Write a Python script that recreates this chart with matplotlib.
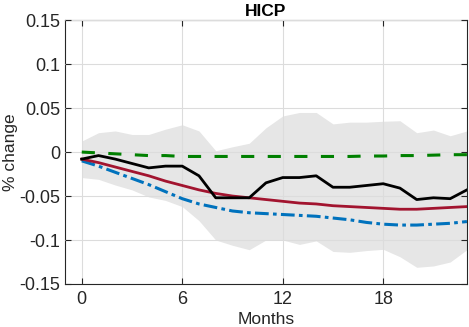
import matplotlib
matplotlib.use("Agg")
import matplotlib.pyplot as plt
import numpy as np

plt.rcParams['font.family'] = ['Liberation Sans', 'DejaVu Sans']

months = np.arange(24)

# median / point response (black)
hicp_black = [-0.008, -0.004, -0.008, -0.013, -0.018, -0.016, -0.016, -0.027,
              -0.052, -0.052, -0.052, -0.035, -0.029, -0.029, -0.027, -0.040,
              -0.040, -0.038, -0.036, -0.041, -0.054, -0.052, -0.053, -0.043]
hicp_red = [-0.008, -0.012, -0.017, -0.022, -0.027, -0.033, -0.038, -0.043,
            -0.047, -0.050, -0.052, -0.054, -0.056, -0.058, -0.059, -0.061,
            -0.062, -0.063, -0.064, -0.065, -0.065, -0.064, -0.063, -0.062]
hicp_blue = [-0.010, -0.016, -0.023, -0.030, -0.037, -0.045, -0.053, -0.059,
             -0.063, -0.067, -0.069, -0.070, -0.071, -0.072, -0.073, -0.075,
             -0.077, -0.080, -0.082, -0.083, -0.083, -0.082, -0.081, -0.079]
hicp_green = [0.000, -0.001, -0.002, -0.003, -0.004, -0.004, -0.005, -0.005,
              -0.005, -0.005, -0.005, -0.005, -0.005, -0.005, -0.005, -0.005,
              -0.005, -0.0045, -0.0045, -0.004, -0.004, -0.0035, -0.003, -0.003]
band_upper = [0.0125, 0.022, 0.024, 0.020, 0.020, 0.026, 0.031, 0.024,
              0.0015, 0.006, 0.010, 0.0276, 0.041, 0.045, 0.045, 0.032,
              0.034, 0.034, 0.035, 0.0356, 0.022, 0.025, 0.0185, 0.024]
band_lower = [-0.029, -0.031, -0.0375, -0.043, -0.051, -0.055, -0.062, -0.078,
              -0.100, -0.106, -0.111, -0.100, -0.100, -0.105, -0.101, -0.113,
              -0.114, -0.112, -0.1106, -0.119, -0.131, -0.1295, -0.125, -0.111]

fig = plt.figure(figsize=(4.69, 3.27), dpi=100)
ax = fig.add_axes([0.1386, 0.1315, 0.857, 0.807])

ax.fill_between(months, band_lower, band_upper, color='#e6e6e6', lw=0, zorder=1)
ax.plot(months, hicp_green, color='#008000', lw=2.2, ls=(0, (4.3, 4.4)), zorder=3)
ax.plot(months, hicp_blue, color='#0072bd', lw=2.2, ls=(0, (4.5, 1.4, 1.2, 1.4)), zorder=3)
ax.plot(months, hicp_red, color='#a2142f', lw=2.0, zorder=3)
ax.plot(months, hicp_black, color='black', lw=2.0, zorder=4)

ax.set_xlim(-1, 23)
ax.set_ylim(-0.15, 0.15)
ax.set_xticks([0, 6, 12, 18])
ax.set_yticks([-0.15, -0.1, -0.05, 0, 0.05, 0.1, 0.15])
ax.set_yticklabels(['-0.15', '-0.1', '-0.05', '0', '0.05', '0.1', '0.15'])
ax.grid(True, color='#dcdcdc', lw=0.8, zorder=2)
ax.set_axisbelow(False)
for gl in ax.get_xgridlines() + ax.get_ygridlines():
    gl.set_zorder(2)
ax.tick_params(direction='in', top=True, right=True, length=4, width=0.8,
               labelsize=13, colors='#262626', labelcolor='#262626')
ax.tick_params(axis='x', pad=5)
for s in ax.spines.values():
    s.set_color('#262626')
    s.set_linewidth(0.8)

ax.set_title('HICP', fontsize=12.5, fontweight='bold', pad=3)
ax.set_xlabel('Months', fontsize=12.5, color='#262626', labelpad=3)
ax.set_ylabel('% change', fontsize=12.5, color='#262626', labelpad=1)

fig.savefig('out.png', dpi=100)
